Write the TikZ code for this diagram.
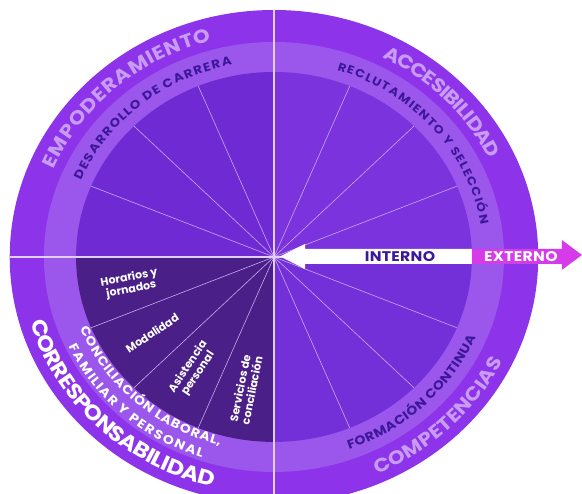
\documentclass[tikz,border=0pt]{standalone}
\usepackage{fontspec}
\setmainfont{Poppins}
\newfontfamily\widefont{Poppins}[FakeStretch=1.12]
\usetikzlibrary{decorations.text}

\definecolor{ringouter}{HTML}{8D34EB}
\definecolor{ringmid}{HTML}{9B56EB}
\definecolor{innerur}{HTML}{7B33DD}
\definecolor{innerul}{HTML}{702AD3}
\definecolor{innerll}{HTML}{4A2088}
\definecolor{innerlr}{HTML}{7430D8}
\definecolor{labeldark}{HTML}{3D1799}
\definecolor{labellight}{HTML}{C89CF4}
\definecolor{extmagenta}{HTML}{D63BEA}
\definecolor{spoke}{HTML}{C9A8F0}

% text spread along an arc: radius, start, end, character options, text
\newcommand{\arclabel}[5]{%
  \path[decorate, decoration={text effects along path, text={#5},
      text effects/.cd, text along path, fit text to path, characters={anchor=base, #4}}]
    (#2:#1) arc[start angle=#2, end angle=#3, radius=#1];}

\newcommand{\ringfont}[1]{\widefont\fontsize{#1}{#1}\selectfont\bfseries}

\begin{document}
\begin{tikzpicture}[x=1.07pt, y=1pt,
  spokeline/.style={draw=spoke, line width=0.6pt},
  quadline/.style={draw=spoke!55!white, line width=1.1pt},
  innerlabel/.style={text=white, font=\fontsize{11}{12}\selectfont\bfseries, align=center},
  arrowtext/.style={font=\ringfont{14}\addfontfeature{LetterSpace=2}}]

  \useasboundingbox (-256.1,-237) rectangle (287.9,257);

  % Rings
  \fill[ringouter] (0,0) circle[radius=247];
  \fill[ringmid] (0,0) circle[radius=215];

  % Inner quadrants
  \fill[innerur] (0,0) -- (0:185) arc[start angle=0, end angle=90, radius=185] -- cycle;
  \fill[innerul] (0,0) -- (90:185) arc[start angle=90, end angle=180, radius=185] -- cycle;
  \fill[innerll] (0,0) -- (180:185) arc[start angle=180, end angle=270, radius=185] -- cycle;
  \fill[innerlr] (0,0) -- (270:185) arc[start angle=270, end angle=360, radius=185] -- cycle;

  % Spokes
  \foreach \a in {22.5,45,67.5,112.5,135,157.5,202.5,225,247.5,292.5,315,337.5}
    \draw[spokeline] (0,0) -- (\a:185);
  \draw[quadline] (180:247) -- (0:247);
  \draw[quadline] (90:247) -- (270:247);

  % Outer ring
  \arclabel{224}{157}{105}{text=labellight, font=\ringfont{19}}{EMPODERAMIENTO}
  \arclabel{224}{63}{26}{text=labellight, font=\ringfont{19}}{ACCESIBILIDAD}
  \arclabel{237}{196}{256}{text=white, font=\ringfont{21}}{CORRESPONSABILIDAD}
  \arclabel{238}{-66}{-26}{text=labellight, font=\ringfont{19}}{COMPETENCIAS}

  % Middle ring
  \arclabel{196}{157}{101.5}{text=labeldark, font=\ringfont{12}}{DESARROLLO DE CARRERA}
  \arclabel{196}{72.5}{9.5}{text=labeldark, font=\ringfont{11.5}}{RECLUTAMIENTO Y SELECCIÓN}
  \arclabel{205}{-70}{-23}{text=labeldark, font=\ringfont{12.5}}{FORMACIÓN CONTINUA}
  \arclabel{195}{201.5}{255}{text=white, font=\ringfont{12.5}}{CONCILIACIÓN LABORAL,}
  \arclabel{212}{205}{251.5}{text=white, font=\ringfont{12.5}}{FAMILIAR Y PERSONAL}

  % Inner labels
  \node[innerlabel, rotate=11.25] (horarios) at (191.25:137) {Horarios y\\jornados};
  \node[innerlabel, rotate=33.75] (modalidad) at (213.75:137) {Modalidad};
  \node[innerlabel, rotate=56.25] (asistencia) at (236.25:136) {Asistencia\\personal};
  \node[innerlabel, rotate=78.75] (servicios) at (258.75:135) {Servicios de\\conciliación};

  % Arrow
  \fill[white] (5.6,0.5) -- (29,13) -- (29,8) -- (185,8) -- (185,-7) -- (29,-7) -- (29,-12) -- cycle;
  \fill[extmagenta] (185,8) -- (269,8) -- (269,17) -- (287.9,2) -- (269,-13) -- (269,-7) -- (185,-7) -- cycle;
  \node[arrowtext, text=labeldark] (interno) at (117.8,0.5) {INTERNO};
  \node[arrowtext, text=white] (externo) at (230.8,0.5) {EXTERNO};
\end{tikzpicture}
\end{document}
